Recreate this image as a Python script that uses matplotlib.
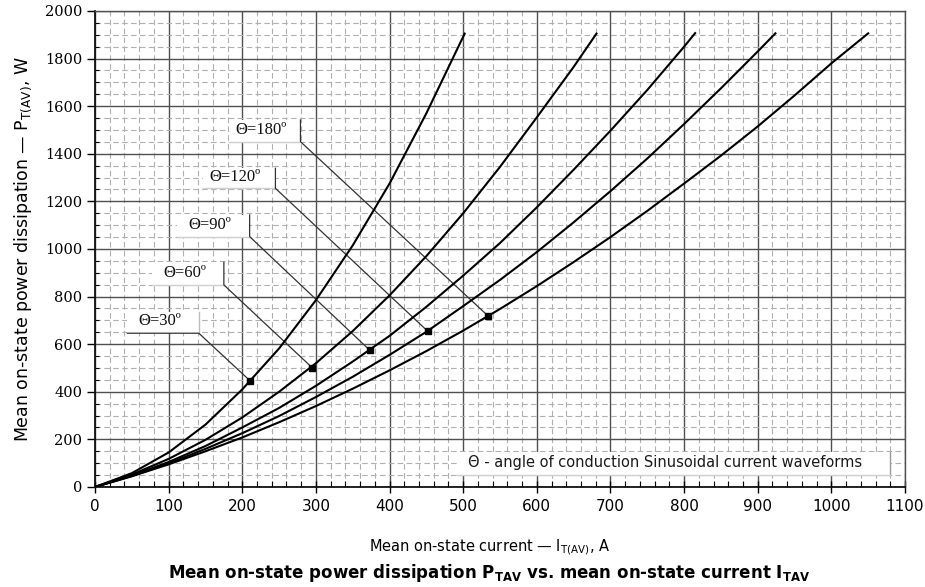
import matplotlib
matplotlib.use("Agg")
import matplotlib.pyplot as plt
from matplotlib.patches import Rectangle
from matplotlib.ticker import MultipleLocator

# ---------------------------------------------
# curve readings: mean current (A) -> power (W)
# ---------------------------------------------
angles = ["30", "60", "90", "120", "180"]

i_30 = [0, 50, 100, 150, 200, 250, 300, 350, 400, 450, 502]
p_30 = [0, 58, 145, 262, 410, 582, 785, 1015, 1275, 1570, 1905]

i_60 = [0, 50, 100, 150, 200, 250, 300, 350, 400, 450, 500, 550, 600, 650, 681]
p_60 = [0, 52, 118, 198, 292, 400, 520, 655, 805, 970, 1150, 1345, 1553, 1765, 1905]

i_90 = [0, 50, 100, 150, 200, 250, 300, 350, 400, 450, 500, 550, 600, 650, 700,
        750, 800, 815]
p_90 = [0, 48, 105, 172, 250, 332, 425, 527, 635, 757, 888, 1025, 1175, 1333, 1497,
        1668, 1850, 1907]

i_120 = [0, 50, 100, 150, 200, 250, 300, 350, 400, 450, 500, 550, 600, 650, 700,
         750, 800, 850, 900, 924]
p_120 = [0, 46, 99, 160, 226, 298, 378, 463, 555, 652, 760, 870, 987, 1112, 1243,
         1380, 1525, 1675, 1830, 1906]

i_180 = [0, 50, 100, 150, 200, 250, 300, 350, 400, 450, 500, 550, 600, 650, 700,
         750, 800, 850, 900, 950, 1000, 1050]
p_180 = [0, 45, 95, 150, 208, 272, 340, 413, 490, 571, 657, 748, 844, 945, 1050,
         1160, 1275, 1392, 1515, 1645, 1780, 1906]

# marked points where the leader lines land
mark_i = [211, 295, 373, 452, 534]
mark_p = [445, 501, 575, 654, 718]

curves = [(i_30, p_30), (i_60, p_60), (i_90, p_90), (i_120, p_120), (i_180, p_180)]

# label boxes (left, right, bottom, top) in data units - layout only
boxes = [(44, 141, 646, 737),
         (78, 175, 849, 944),
         (111, 210, 1052, 1143),
         (146, 245, 1255, 1339),
         (182, 279, 1451, 1542)]

fig = plt.figure(figsize=(9.25, 5.87), dpi=100)
ax = fig.add_axes([0.1027, 0.1704, 0.8757, 0.8109])

ax.set_xlim(0, 1100)
ax.set_ylim(0, 2000)
ax.xaxis.set_major_locator(MultipleLocator(100))
ax.xaxis.set_minor_locator(MultipleLocator(20))
ax.yaxis.set_major_locator(MultipleLocator(200))
ax.yaxis.set_minor_locator(MultipleLocator(50))

ax.grid(which="minor", color="#b0b0b0", linewidth=0.8, linestyle=(0, (5, 3)), zorder=0)
ax.grid(which="major", color="#505050", linewidth=1.0, linestyle="-", zorder=0.5)
ax.set_axisbelow(True)

for s in ["left", "bottom"]:
    ax.spines[s].set_color("#111111")
    ax.spines[s].set_linewidth(1.3)
for s in ["top", "right"]:
    ax.spines[s].set_color("#505050")
    ax.spines[s].set_linewidth(1.0)

ax.tick_params(axis="x", which="major", direction="inout", length=9, width=1.0,
               labelsize=11, pad=4)
ax.tick_params(axis="x", which="minor", direction="in", length=4, width=0.8)
ax.tick_params(axis="y", which="major", direction="out", length=6, width=1.0, pad=3)
ax.tick_params(axis="y", which="minor", direction="in", length=3, width=0.8)
for lab in ax.get_yticklabels():
    lab.set_fontfamily("DejaVu Serif")
    lab.set_fontsize(10.5)

# curves
for (ii, pp) in curves:
    ax.plot(ii, pp, color="black", linewidth=1.5, zorder=4)
ax.plot(mark_i, mark_p, linestyle="none", marker="s", markersize=4.5,
        color="black", zorder=5)

# labels with leader lines
for k, (ang, box) in enumerate(zip(angles, boxes)):
    x0, x1, y0, y1 = box
    ax.add_patch(Rectangle((x0, y0), x1 - x0, y1 - y0, facecolor="white",
                           edgecolor="none", zorder=2))
    ax.text((x0 + x1) / 2 - 5, (y0 + y1) / 2 + 4, "\u0398=" + ang + "\u00ba",
            family="Liberation Serif", fontsize=12, ha="center", va="center",
            color="#111111", zorder=3)
    if k == 0:
        ax.plot([x1, x1], [y0, y1], color="#bdbdbd", linewidth=1.0, zorder=2.5)
        ax.plot([x0, x1, mark_i[k]], [y0, y0, mark_p[k]], color="#333333",
                linewidth=0.9, zorder=3)
    else:
        ax.plot([x0, x1], [y0, y0], color="#cfcfcf", linewidth=1.0, zorder=2.5)
        ax.plot([x1, x1, mark_i[k]], [y1, y0, mark_p[k]], color="#333333",
                linewidth=0.9, zorder=3)

# note box at bottom right
ax.add_patch(Rectangle((492, 50), 1080 - 492, 148 - 50, facecolor="white",
                       edgecolor="none", zorder=2))
ax.plot([1080, 1080], [50, 148], color="#9a9a9a", linewidth=1.0, zorder=2.5)
ax.plot([492, 1080], [50, 50], color="#d0d0d0", linewidth=1.0, zorder=2.5)
ax.text(507, 101, "\u0398 - angle of conduction Sinusoidal current waveforms",
        fontsize=10.5, ha="left", va="center", color="#1a1a1a", zorder=3)

ax.set_ylabel(r"Mean on-state power dissipation — P$_{\mathregular{T(AV)}}$, W",
              fontsize=12.5, labelpad=8)
fig.text(0.529, 0.068, r"Mean on-state current — I$_{\mathregular{T(AV)}}$, A",
         fontsize=10.5, ha="center", va="center")
fig.text(0.529, 0.024,
         r"Mean on-state power dissipation P$_{\mathbf{TAV}}$ vs. mean on-state current I$_{\mathbf{TAV}}$",
         fontsize=12, fontweight="bold", ha="center", va="center")

fig.savefig("out.png", dpi=100, facecolor="white")
